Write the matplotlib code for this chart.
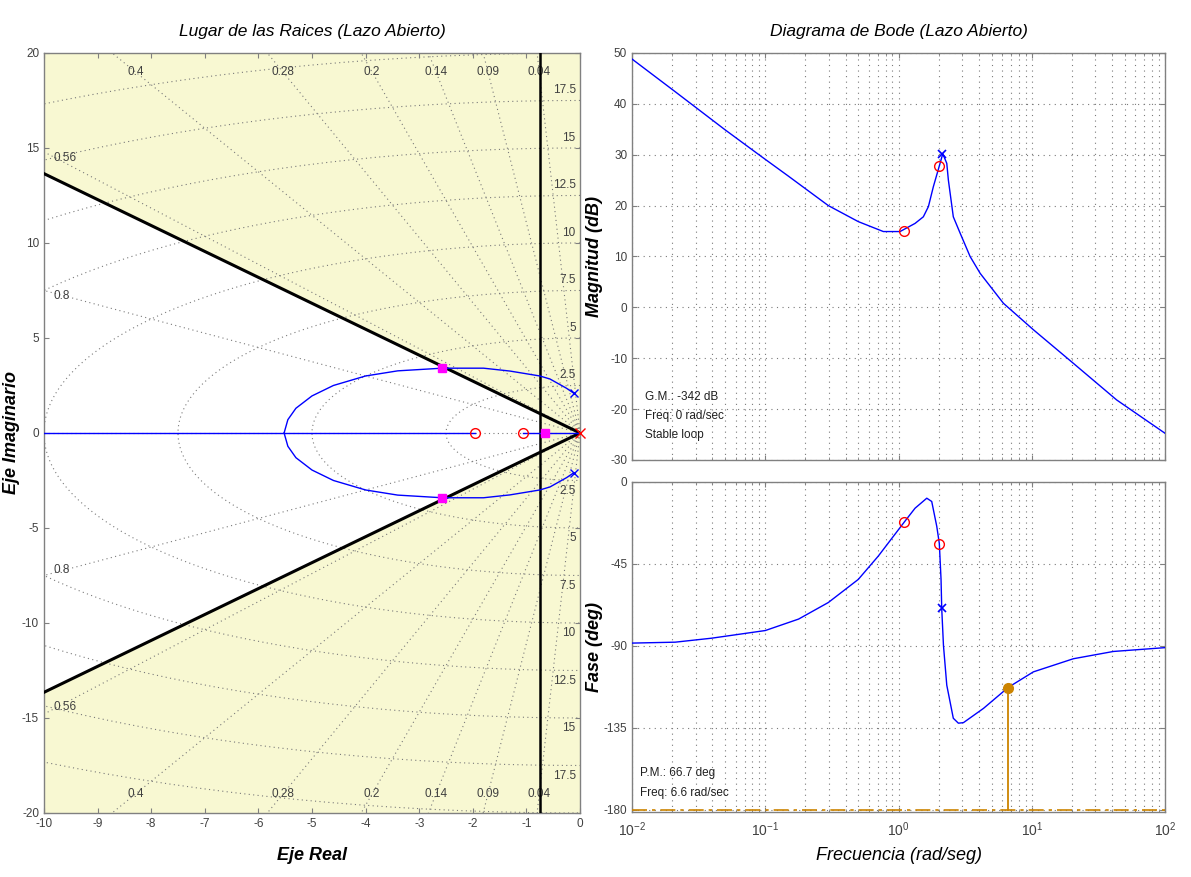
import numpy as np
import matplotlib
matplotlib.use("Agg")
import matplotlib.pyplot as plt
from matplotlib.ticker import LogLocator, NullFormatter, MultipleLocator

plt.rcParams['font.family'] = ['Liberation Sans Narrow', 'Liberation Sans', 'DejaVu Sans']
plt.rcParams['mathtext.default'] = 'regular'
plt.rcParams['axes.unicode_minus'] = False

# ---- root locus data ----
plant_pole_re = [-0.12, -0.12]
plant_pole_im = [2.1, -2.1]
comp_pole_re = [0.0]
comp_pole_im = [0.0]
comp_zero_re = [-1.96, -1.06]
comp_zero_im = [0.0, 0.0]
cl_pole_re = [-2.57, -2.57, -0.65]
cl_pole_im = [3.41, -3.41, 0.0]

# upper complex branch, from the plant pole to the break-in point
branch_re = [-0.12, -0.25, -0.56, -0.75, -1.31, -1.8, -2.57, -3.4, -4.0, -4.6, -5.0, -5.3, -5.45, -5.52]
branch_im = [2.1, 2.35, 2.84, 3.0, 3.26, 3.41, 3.41, 3.27, 3.0, 2.5, 1.95, 1.3, 0.7, 0.0]
# real-axis segments of the locus
real_seg_start = [-10.0, -1.06]
real_seg_end = [-1.96, 0.0]

# design constraints
sigma_max = -0.75      # settling time bound
wedge_slope = 1.365    # |Im| / |Re| of damping bound

# s-grid
zetas = [0.04, 0.09, 0.14, 0.2, 0.28, 0.4, 0.56, 0.8]
wn_list = [2.5, 5, 7.5, 10, 12.5, 15, 17.5, 20]
wn_labels = ['2.5', '5', '7.5', '10', '12.5', '15', '17.5']

# ---- bode data ----
w_mag = [0.01, 0.02104, 0.02972, 0.04989, 0.09397, 0.1489, 0.2972, 0.4989, 0.7691, 1.026,
         1.330, 1.535, 1.675, 1.824, 2.023, 2.148, 2.301, 2.366, 2.576, 2.897, 3.443,
         4.093, 6.124, 10.28, 20.51, 43.35, 100.0]
mag_db = [48.8, 42.4, 39.4, 34.9, 29.6, 25.8, 20.0, 16.85, 14.9, 14.9,
          16.5, 17.8, 19.8, 23.7, 27.8, 30.2, 28.3, 25.0, 17.8, 14.6, 10.0,
          6.7, 0.8, -4.4, -11.0, -18.2, -24.75]

w_ph = [0.01, 0.02104, 0.03963, 0.1, 0.1778, 0.2972, 0.4989, 0.7047, 1.104, 1.330,
        1.629, 1.774, 1.936, 2.023, 2.084, 2.109, 2.173, 2.301, 2.576, 2.812, 3.069,
        4.335, 6.668, 10.28, 20.51, 40.93, 100.0]
phase_deg = [-88.5, -88.0, -85.8, -81.6, -75.3, -66.2, -53.5, -40.7, -22.0, -14.4,
             -8.9, -10.7, -24.4, -33.8, -53.5, -69.5, -89.8, -111.6, -129.8, -132.5, -132.2,
             -124.4, -112.8, -104.3, -97.1, -93.1, -91.0]

w_czero = [1.1, 2.02]
mag_czero = [15.0, 27.8]
ph_czero = [-22.0, -33.8]
w_ppole = [2.12]
mag_ppole = [30.2]
ph_ppole = [-69.0]

pm_freq = 6.6
pm_phase = -113.3

gm_text = ["G.M.: -342 dB", "Freq: 0 rad/sec", "Stable loop"]
pm_text = ["P.M.: 66.7 deg", "Freq: 6.6 rad/sec"]

# ---- styles ----
yellow = '#f8f8d2'
grid_col = '#7a7a7a'
spine_col = '#808080'
tick_col = '#404040'
orange = '#cc8400'
dot = (0, (1, 3))
bdot = (0, (1, 4))

fig = plt.figure(figsize=(11.91, 8.77), dpi=100)


def style_axes(ax):
    for s in ax.spines.values():
        s.set_color(spine_col)
        s.set_linewidth(1.0)
    ax.tick_params(which='both', direction='in', top=True, right=True,
                   colors=spine_col, labelcolor=tick_col, labelsize=8.5)


# ================= root locus =================
ax = fig.add_axes([0.0369, 0.0730, 0.4501, 0.8666])
ax.set_xlim(-10, 0)
ax.set_ylim(-20, 20)
ax.set_facecolor(yellow)

# feasible (white) region
xl = -10.0
poly_x = [xl, sigma_max, sigma_max, xl]
poly_y = [-xl * wedge_slope, -sigma_max * wedge_slope, sigma_max * wedge_slope, xl * wedge_slope]
ax.fill(poly_x, poly_y, color='white', zorder=0.5, lw=0)

# s-grid: damping rays and wn semicircles
R = 40
for z in zetas:
    t = np.tan(np.arccos(z))
    ax.plot([0, -R], [0, R * t], ls=dot, color=grid_col, lw=0.8, zorder=1)
    ax.plot([0, -R], [0, -R * t], ls=dot, color=grid_col, lw=0.8, zorder=1)
ax.plot([-10, 0], [0, 0], ls=dot, color=grid_col, lw=0.8, zorder=1)
th = np.linspace(np.pi / 2, 3 * np.pi / 2, 200)
for wn in wn_list:
    ax.plot(wn * np.cos(th), wn * np.sin(th), ls=dot, color=grid_col, lw=0.8, zorder=1)

for z in zetas:
    t = np.tan(np.arccos(z))
    lab = ('%g' % z)
    if 19 / t <= 9.6:
        ax.text(-19 / t, 19, lab, ha='center', va='center', fontsize=8.5, color=tick_col, zorder=2)
        ax.text(-19 / t, -19, lab, ha='center', va='center', fontsize=8.5, color=tick_col, zorder=2)
    else:
        ax.text(-9.82, 9.9 * t - 0.2, lab, ha='left', va='center', fontsize=8.5, color=tick_col, zorder=2)
        ax.text(-9.82, -9.9 * t + 0.2, lab, ha='left', va='center', fontsize=8.5, color=tick_col, zorder=2)
for wn, lab in zip(wn_list, wn_labels):
    ax.text(-0.08, wn + 0.55, lab, ha='right', va='center', fontsize=8.5, color=tick_col, zorder=2)
    ax.text(-0.08, -wn - 0.55, lab, ha='right', va='center', fontsize=8.5, color=tick_col, zorder=2)

# constraint lines
ax.plot([0, -10], [0, 10 * wedge_slope], color='black', lw=2.2, zorder=3)
ax.plot([0, -10], [0, -10 * wedge_slope], color='black', lw=2.2, zorder=3)
ax.axvline(sigma_max, color='black', lw=1.8, zorder=3)

# locus
bre = np.array(branch_re)
bim = np.array(branch_im)
ax.plot(bre, bim, color='blue', lw=1.0, zorder=4)
ax.plot(bre, -bim, color='blue', lw=1.0, zorder=4)
for a, b in zip(real_seg_start, real_seg_end):
    ax.plot([a, b], [0, 0], color='blue', lw=1.0, zorder=4)

ax.plot(plant_pole_re, plant_pole_im, 'x', color='blue', ms=6, mew=1.0, zorder=5)
ax.plot(comp_pole_re, comp_pole_im, 'x', color='red', ms=7, mew=1.0, zorder=5, clip_on=False)
ax.plot(comp_zero_re, comp_zero_im, 'o', mfc='none', mec='red', ms=7, mew=1.0, zorder=5)
ax.plot(cl_pole_re, cl_pole_im, 's', color='#ff00ff', ms=6, zorder=6)

ax.xaxis.set_major_locator(MultipleLocator(1))
ax.yaxis.set_major_locator(MultipleLocator(5))
style_axes(ax)
ax.set_title('Lugar de las Raices (Lazo Abierto)', fontsize=12.5, style='italic', pad=12)
ax.set_xlabel('Eje Real', fontsize=13, style='italic', fontweight='bold', labelpad=12)
ax.set_ylabel('Eje Imaginario', fontsize=13, style='italic', fontweight='bold')
ax.yaxis.set_label_coords(-0.045, 0.5)

# ================= bode magnitude =================
axm = fig.add_axes([0.5307, 0.4755, 0.4475, 0.4641])
axm.semilogx(w_mag, mag_db, color='blue', lw=1.0, zorder=3)
axm.plot(w_czero, mag_czero, 'o', mfc='none', mec='red', ms=7, mew=1.0, zorder=4)
axm.plot(w_ppole, mag_ppole, 'x', color='blue', ms=6, mew=1.2, zorder=4)
axm.set_xlim(1e-2, 1e2)
axm.set_ylim(-30, 50)
axm.yaxis.set_major_locator(MultipleLocator(10))
axm.xaxis.set_major_locator(LogLocator(base=10, numticks=10))
axm.xaxis.set_minor_locator(LogLocator(base=10, subs=np.arange(2, 10), numticks=20))
axm.xaxis.set_major_formatter(NullFormatter())
axm.xaxis.set_minor_formatter(NullFormatter())
axm.grid(True, which='both', axis='x', ls=bdot, color=grid_col, lw=0.8)
axm.grid(True, which='major', axis='y', ls=bdot, color=grid_col, lw=0.8)
style_axes(axm)
axm.set_ylabel('Magnitud (dB)', fontsize=13, style='italic', fontweight='bold')
axm.yaxis.set_label_coords(-0.054, 0.5)
axm.set_title('Diagrama de Bode (Lazo Abierto)', fontsize=12.5, style='italic', pad=12)
for i, s in enumerate(gm_text):
    axm.text(0.024, 0.155 - i * 0.047, s, transform=axm.transAxes, fontsize=8.5,
             va='center', ha='left', color='#202020')

# ================= bode phase =================
axp = fig.add_axes([0.5307, 0.0741, 0.4475, 0.3763])
axp.semilogx(w_ph, phase_deg, color='blue', lw=1.0, zorder=3)
axp.plot(w_czero, ph_czero, 'o', mfc='none', mec='red', ms=7, mew=1.0, zorder=4)
axp.plot(w_ppole, ph_ppole, 'x', color='blue', ms=6, mew=1.2, zorder=4)
axp.plot([1e-2, 1e2], [-180, -180], color=orange, lw=1.2, ls=(0, (9, 3, 2, 3)),
         zorder=6, clip_on=False)
axp.plot([pm_freq, pm_freq], [-180, pm_phase], color=orange, lw=1.3, zorder=3)
axp.plot([pm_freq], [pm_phase], 'o', color=orange, ms=7, zorder=5)
axp.set_xlim(1e-2, 1e2)
axp.set_ylim(-181.3, 0)
axp.set_yticks([0, -45, -90, -135, -180])
axp.xaxis.set_major_locator(LogLocator(base=10, numticks=10))
axp.xaxis.set_minor_locator(LogLocator(base=10, subs=np.arange(2, 10), numticks=20))
axp.xaxis.set_minor_formatter(NullFormatter())
axp.grid(True, which='both', axis='x', ls=bdot, color=grid_col, lw=0.8)
axp.grid(True, which='major', axis='y', ls=bdot, color=grid_col, lw=0.8)
style_axes(axp)
axp.tick_params(axis='x', labelsize=10, pad=6)
axp.set_ylabel('Fase (deg)', fontsize=13, style='italic', fontweight='bold')
axp.yaxis.set_label_coords(-0.054, 0.5)
axp.set_xlabel('Frecuencia (rad/seg)', fontsize=13, style='italic', labelpad=6)
for i, s in enumerate(pm_text):
    axp.text(0.015, 0.118 - i * 0.06, s, transform=axp.transAxes, fontsize=8.5,
             va='center', ha='left', color='#202020')

fig.savefig('out.png', dpi=100, facecolor='white')
